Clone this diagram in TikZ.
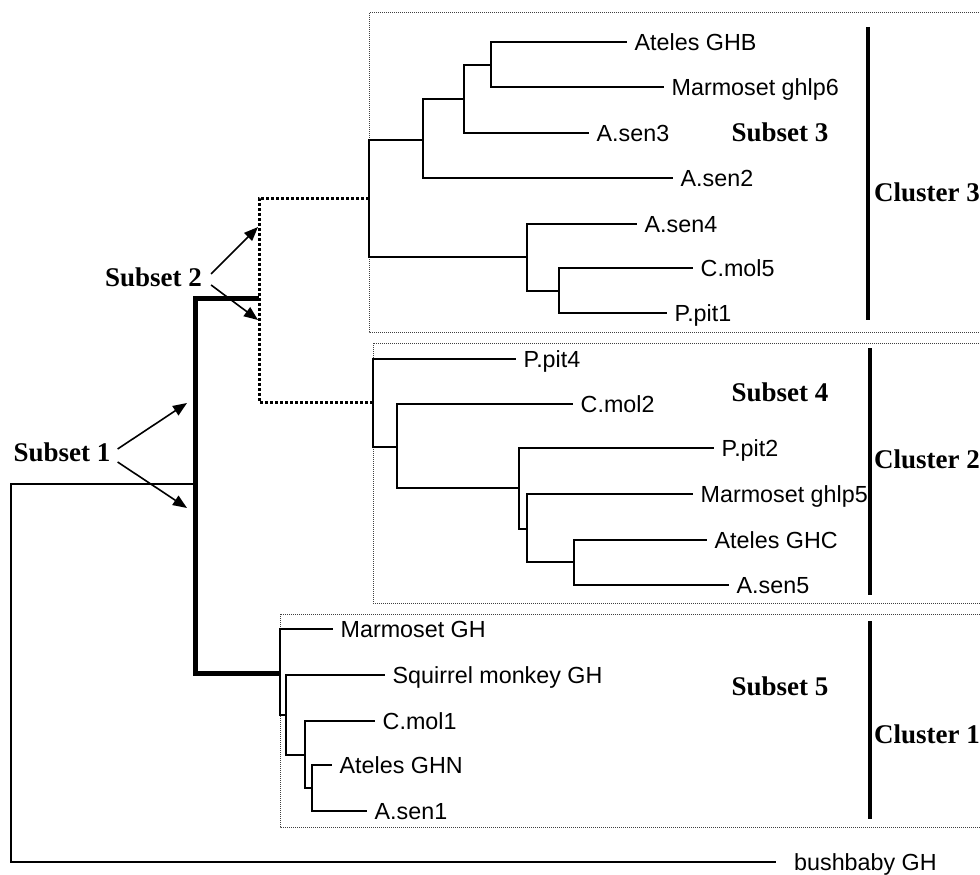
\documentclass[tikz,border=0pt]{standalone}
\usepackage{fontspec}
\setmainfont{Liberation Sans}
\newfontfamily\tms{Liberation Serif}
\usetikzlibrary{arrows.meta}
\begin{document}
\begin{tikzpicture}[x=1pt,y=-1pt,
  leaf/.style={anchor=west, inner xsep=7.5pt, inner ysep=0pt, text height=16.7pt, text depth=0pt,
    font=\fontsize{23.3}{24}\selectfont},
  tl/.style={line width=2.4pt},
  thk/.style={line width=5pt},
  dotbr/.style={line width=3pt, dash pattern=on 3pt off 2pt},
  lbl/.style={inner sep=0pt, text height=17.9pt, text depth=0pt, font=\tms\bfseries\fontsize{27}{28}\selectfont},
  clbl/.style={lbl, anchor=west},
  bar/.style={line width=4.5pt},
  boxst/.style={draw=black!75, densely dotted, line width=1pt},
  arr/.style={line width=1.6pt, -{Triangle[length=14pt,width=11pt]}}]
\useasboundingbox (0,0) rectangle (980,875);

% boxes
\draw[boxst] (369,13) rectangle (1000,332);
\draw[boxst] (373,343) rectangle (1000,603);
\draw[boxst] (280,614) rectangle (1000,827);

% ---- Cluster 3 ----
\coordinate (N3) at (369,198);
\coordinate (N3a) at (423,140);
\coordinate (N3b) at (527,257);
\coordinate (N3c) at (464,99);
\coordinate (N3d) at (491,65);
\coordinate (N3e) at (559,291);
\node[leaf] (gHB) at (627,42) {Ateles GHB};
\node[leaf] (mg6) at (664,87) {Marmoset ghlp6};
\node[leaf] (as3) at (589,133) {A.sen3};
\node[leaf] (as2) at (673,178) {A.sen2};
\node[leaf] (as4) at (637,224) {A.sen4};
\node[leaf] (cm5) at (693,268) {C.mol5};
\node[leaf] (pp1) at (667,313) {P.pit1};
\draw[tl] (N3) |- (N3a); \draw[tl] (N3) |- (N3b);
\draw[tl] (N3a) |- (N3c); \draw[tl] (N3a) |- (as2.west);
\draw[tl] (N3c) |- (N3d); \draw[tl] (N3c) |- (as3.west);
\draw[tl] (N3d) |- (gHB.west); \draw[tl] (N3d) |- (mg6.west);
\draw[tl] (N3b) |- (as4.west); \draw[tl] (N3b) |- (N3e);
\draw[tl] (N3e) |- (cm5.west); \draw[tl] (N3e) |- (pp1.west);

% ---- Cluster 2 ----
\coordinate (N2) at (373,402);
\coordinate (N2a) at (397,447);
\coordinate (N2b) at (519,488);
\coordinate (N2c) at (527,529);
\coordinate (N2d) at (574,562);
\node[leaf] (pp4) at (516,359) {P.pit4};
\node[leaf] (cm2) at (573,404) {C.mol2};
\node[leaf] (pp2) at (714,448) {P.pit2};
\node[leaf] (mg5) at (693,494) {Marmoset ghlp5};
\node[leaf] (gHC) at (707,540) {Ateles GHC};
\node[leaf] (as5) at (729,585) {A.sen5};
\draw[tl] (N2) |- (pp4.west); \draw[tl] (N2) |- (N2a);
\draw[tl] (N2a) |- (cm2.west); \draw[tl] (N2a) |- (N2b);
\draw[tl] (N2b) |- (pp2.west); \draw[tl] (N2b) |- (N2c);
\draw[tl] (N2c) |- (mg5.west); \draw[tl] (N2c) |- (N2d);
\draw[tl] (N2d) |- (gHC.west); \draw[tl] (N2d) |- (as5.west);

% ---- Cluster 1 ----
\coordinate (N1) at (280,673);
\coordinate (N1a) at (286,715);
\coordinate (N1b) at (305,755);
\coordinate (N1c) at (312,788);
\node[leaf] (mgh) at (333,629) {Marmoset GH};
\node[leaf] (sqm) at (385,675) {Squirrel monkey GH};
\node[leaf] (cm1) at (375,721) {C.mol1};
\node[leaf] (gHN) at (332,765) {Ateles GHN};
\node[leaf] (as1) at (367,811) {A.sen1};
\draw[tl] (N1) |- (mgh.west); \draw[tl] (N1) |- (N1a);
\draw[tl] (N1a) |- (sqm.west); \draw[tl] (N1a) |- (N1b);
\draw[tl] (N1b) |- (cm1.west); \draw[tl] (N1b) |- (N1c);
\draw[tl] (N1c) |- (gHN.west); \draw[tl] (N1c) |- (as1.west);

% ---- backbone ----
\coordinate (R0) at (11,484);
\coordinate (Rj) at (195,484);
\coordinate (T) at (259,298);
\node[leaf, inner xsep=18pt] (bby) at (776,862) {bushbaby GH};
\draw[tl] (Rj) -- (R0) |- (bby.west);
\draw[thk] (T) -| (Rj) |- (N1);
\draw[dotbr] (N3) -| (T) |- (N2);

% ---- cluster bars and labels ----
\coordinate (b3t) at (868,27); \coordinate (b3b) at (868,320);
\coordinate (b2t) at (870,348); \coordinate (b2b) at (870,595);
\coordinate (b1t) at (870,621); \coordinate (b1b) at (870,819);
\draw[bar] (b3t) -- (b3b);
\draw[bar] (b2t) -- (b2b);
\draw[bar] (b1t) -- (b1b);
\node[clbl] (cl3) at (874,193) {Cluster 3};
\node[clbl] (cl2) at (874,460) {Cluster 2};
\node[clbl] (cl1) at (874,735) {Cluster 1};

\node[lbl] (s3) at (780,133) {Subset 3};
\node[lbl] (s4) at (780,393) {Subset 4};
\node[lbl] (s5) at (780,687) {Subset 5};
\node[lbl] (s2) at (153.5,278) {Subset 2};
\node[lbl] (s1) at (62,453) {Subset 1};

% ---- arrows ----
\coordinate (a2u) at (258,227);
\coordinate (a2d) at (258,320);
\coordinate (a1u) at (187,403);
\coordinate (a1d) at (187,508);
\draw[arr] ([xshift=9pt,yshift=4pt]s2.east) -- (a2u);
\draw[arr] ([xshift=9pt,yshift=-7pt]s2.east) -- (a2d);
\draw[arr] ([xshift=7pt,yshift=4pt]s1.east) -- (a1u);
\draw[arr] ([xshift=7pt,yshift=-9pt]s1.east) -- (a1d);
\end{tikzpicture}
\end{document}
